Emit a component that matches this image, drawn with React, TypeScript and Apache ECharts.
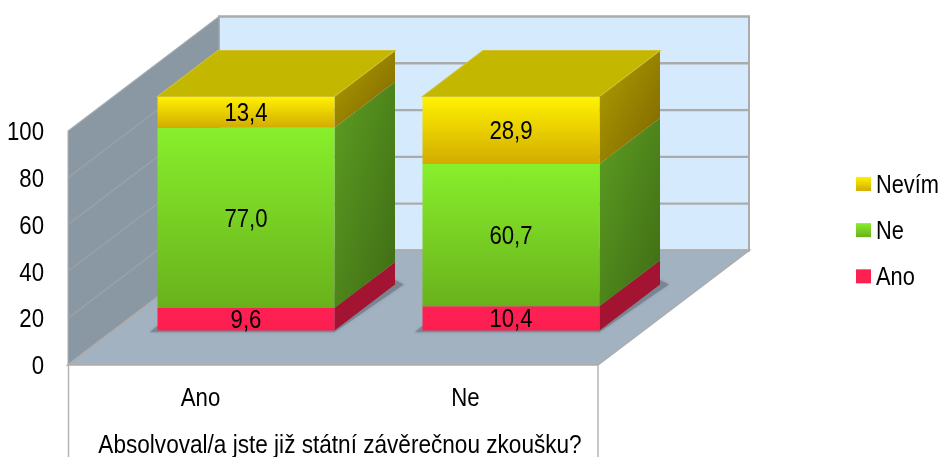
import React, { useEffect, useRef } from "react";
import * as echarts from "echarts";

const categories = ["Ano", "Ne"];
const anoValues = [9.6, 10.4];
const neValues = [77.0, 60.7];
const nevimValues = [13.4, 28.9];
const yTicks = [0, 20, 40, 60, 80, 100];
const axisTitle = "Absolvoval/a jste již státní závěrečnou zkoušku?";

// The reference is a picture stretched vertically, text included: the chart is drawn
// on a lower canvas and the whole div is stretched by STRETCH with CSS.
const STRETCH = 1.17;
const H = 457 / STRETCH;
const FONT = "'Liberation Sans', Arial, sans-serif";
const FS = 22.2;
const WALL_DX = 151;
const WALL_DY = -114.5 / STRETCH;
const BAR_DX = 45.5;
const BAR_DY = -34.5 / STRETCH;
const SIDE_DX = 60.5;
const SIDE_DY = -46 / STRETCH;
const BAR_W = 177;

const grad = (a: string, b: string) => new echarts.graphic.LinearGradient(0, 0, 0, 1, [{ offset: 0, color: a }, { offset: 1, color: b }]);
const diag = (a: string, b: string) => new echarts.graphic.LinearGradient(0, 0, 1, 1, [{ offset: 0, color: a }, { offset: 1, color: b }]);

const fmt = (v: number) => v.toFixed(1).replace(".", ",");

const wallsItem = (params: any, api: any) => {
  const cs = params.coordSys;
  const y0 = api.coord([0, 0])[1];
  const y100 = api.coord([0, 100])[1];
  const xL = cs.x;
  const xR = cs.x + cs.width;
  const bx = xL + WALL_DX;
  const bxR = xR + WALL_DX;
  const border = "#ababab";
  const children: any[] = [
    { type: "rect", shape: { x: bx, y: y100 + WALL_DY, width: bxR - bx, height: y0 - y100 }, style: { fill: "#d5eafd", stroke: border, lineWidth: 2 } },
    { type: "polygon", shape: { points: [[xL, y100], [bx, y100 + WALL_DY], [bx, y0 + WALL_DY], [xL, y0]] }, style: { fill: "#8a98a3", stroke: "#a9adb0", lineWidth: 1 } },
  ];
  yTicks.slice(1, -1).forEach((t) => {
    const y = api.coord([0, t])[1];
    children.push({ type: "line", shape: { x1: bx, y1: y + WALL_DY, x2: bxR, y2: y + WALL_DY }, style: { stroke: border, lineWidth: 2 } });
    children.push({ type: "line", shape: { x1: xL, y1: y, x2: bx, y2: y + WALL_DY }, style: { stroke: "#9fa4a8", lineWidth: 1 } });
  });
  children.push({ type: "polygon", shape: { points: [[xL, y0], [xR, y0], [bxR, y0 + WALL_DY], [bx, y0 + WALL_DY]] }, style: { fill: "#a2b2c0", stroke: "#adadad", lineWidth: 1.5 } });
  children.push({ type: "line", shape: { x1: xL + 0.5, y1: y0, x2: xL + 0.5, y2: H }, style: { stroke: "#b4b4b4", lineWidth: 1.5 } });
  children.push({ type: "line", shape: { x1: xR, y1: y0, x2: xR, y2: H }, style: { stroke: "#b4b4b4", lineWidth: 1.5 } });
  categories.forEach((_, i) => {
    const cx = api.coord([i, 0])[0] + BAR_DX;
    const by = y0 + BAR_DY;
    const l = cx - BAR_W / 2;
    const r = cx + BAR_W / 2;
    children.push({
      type: "polygon",
      shape: { points: [[l - 8, by + 1.5], [r, by + 1.5], [r + SIDE_DX + 9, by + SIDE_DY], [r + SIDE_DX, by + SIDE_DY - 4], [l, by - 4]] },
      style: { fill: "rgba(100,112,122,0.55)", shadowBlur: 3, shadowColor: "rgba(90,100,110,0.45)" },
    });
  });
  return { type: "group", children };
};

const barItem = (front: any, side: any, isTop: boolean) => (_params: any, api: any) => {
  const i = api.value(0);
  const start = api.coord([i, api.value(1)]);
  const end = api.coord([i, api.value(2)]);
  const cx = start[0] + BAR_DX;
  const l = cx - BAR_W / 2;
  const r = cx + BAR_W / 2;
  const yb = start[1] + BAR_DY;
  const yt = end[1] + BAR_DY;
  const children: any[] = [
    { type: "polygon", shape: { points: [[r, yb], [r + SIDE_DX, yb + SIDE_DY], [r + SIDE_DX, yt + SIDE_DY], [r, yt]] }, style: { fill: side } },
    { type: "rect", shape: { x: l, y: yt, width: BAR_W, height: yb - yt }, style: { fill: front } },
  ];
  if (isTop) {
    children.push({ type: "polygon", shape: { points: [[l, yt], [l + SIDE_DX, yt + SIDE_DY], [r + SIDE_DX, yt + SIDE_DY], [r, yt]] }, style: { fill: "#c3b700", stroke: "#cfc22e", lineWidth: 1 } });
  }
  children.push({
    type: "text",
    style: { text: fmt(api.value(3)), x: cx, y: (yb + yt) / 2, align: "center", verticalAlign: "middle", fontFamily: FONT, fontSize: FS, fill: "#000" },
  });
  return { type: "group", children };
};

const stacked = (vals: number[], bases: number[]) => vals.map((v, i) => [i, bases[i], bases[i] + v, v]);

export default function App() {
  const ref = useRef<HTMLDivElement>(null);
  useEffect(() => {
    document.body.style.margin = "0";
    document.body.style.background = "#fff";
    const chart = echarts.init(ref.current!, undefined, { renderer: "svg" });
    const zero = categories.map(() => 0);
    const neBase = anoValues;
    const nevimBase = anoValues.map((v, i) => v + neValues[i]);
    const yellow = grad("#fff200", "#d2ab00");
    const green = grad("#88ef2c", "#69b11c");
    const red = grad("#ff2053", "#fb1f50");
    const common = { type: "custom", encode: { x: 0, y: [1, 2] }, silent: true };
    chart.setOption({
      animation: false,
      backgroundColor: "#fff",
      grid: { left: 68, right: 342, top: 131 / STRETCH, bottom: 92.5 / STRETCH, outerBoundsMode: "none" },
      legend: {
        data: ["Nevím", "Ne", "Ano"],
        orient: "vertical",
        left: 856,
        top: 146.2,
        padding: 0,
        icon: "rect",
        itemWidth: 15,
        itemHeight: 12,
        itemGap: 17.5,
        selectedMode: false,
        textStyle: { fontFamily: FONT, fontSize: 21.8, color: "#000", lineHeight: 12 },
      },
      xAxis: {
        type: "category",
        data: categories,
        axisLine: { show: false },
        axisTick: { show: false },
        axisLabel: { fontFamily: FONT, fontSize: FS, color: "#000", margin: 16 },
        name: axisTitle,
        nameLocation: "middle",
        nameGap: 56,
        nameTextStyle: { fontFamily: FONT, fontSize: 22.6, color: "#000", padding: [0, 0, 0, 14] },
      },
      yAxis: {
        type: "value",
        min: 0,
        max: 100,
        interval: 20,
        axisLine: { show: false },
        axisTick: { show: false },
        splitLine: { show: false },
        axisLabel: { fontFamily: FONT, fontSize: FS, color: "#000", margin: 24 },
      },
      series: [
        { ...common, name: "walls", data: [[0, 0, 100, 0]], renderItem: wallsItem },
        { ...common, name: "Ano", itemStyle: { color: "#ff2053" }, data: stacked(anoValues, zero), renderItem: barItem(red, "#a31433", false) },
        { ...common, name: "Ne", itemStyle: { color: green }, data: stacked(neValues, neBase), renderItem: barItem(green, diag("#5c9e22", "#3f6b14"), false) },
        { ...common, name: "Nevím", itemStyle: { color: yellow }, data: stacked(nevimValues, nevimBase), renderItem: barItem(yellow, diag("#b0a000", "#7e6300"), true) },
      ],
    });
    return () => chart.dispose();
  }, []);
  return (
    <div style={{ width: 940, height: 457, overflow: "hidden" }}>
      <div ref={ref} style={{ width: 940, height: H, transform: `scaleY(${STRETCH})`, transformOrigin: "0 0" }} />
    </div>
  );
}
